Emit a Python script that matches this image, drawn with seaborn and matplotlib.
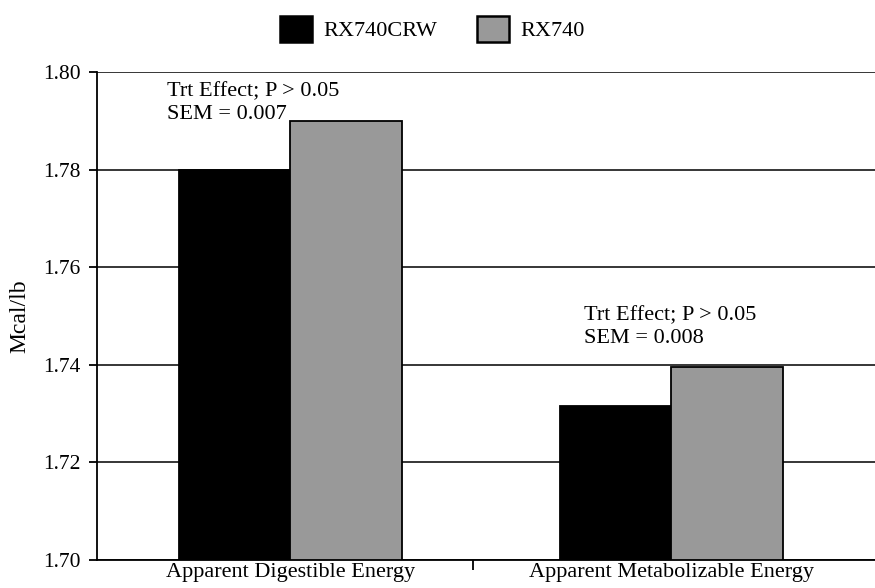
import matplotlib
matplotlib.use("Agg")
import matplotlib.pyplot as plt
import pandas as pd
import seaborn as sns

# values (Mcal/lb)
categories = ["Apparent Digestible Energy", "Apparent Metabolizable Energy"]
treatments = ["RX740CRW", "RX740"]
rx740crw = [1.780, 1.7315]
rx740 = [1.790, 1.7395]
sem_notes = ["Trt Effect; P > 0.05\nSEM = 0.007", "Trt Effect; P > 0.05\nSEM = 0.008"]

df = pd.DataFrame({
    "Category": categories * 2,
    "Treatment": [treatments[0]] * 2 + [treatments[1]] * 2,
    "Value": rx740crw + rx740,
})

sns.set_theme(style="white")
plt.rcParams['font.family'] = ['Liberation Serif', 'DejaVu Serif']
plt.rcParams['text.color'] = 'black'
plt.rcParams['xtick.color'] = 'black'
plt.rcParams['ytick.color'] = 'black'
plt.rcParams['axes.labelcolor'] = 'black'

fig = plt.figure(figsize=(8.75, 5.88), dpi=100)
ax = fig.add_axes([0.111, 0.0476, 0.889, 0.83])

palette = {"RX740CRW": "#000000", "RX740": "#999999"}
sns.barplot(data=df, x="Category", y="Value", hue="Treatment", hue_order=treatments,
            palette=palette, width=0.585, gap=0, edgecolor="black", linewidth=1.3,
            saturation=1, ax=ax, legend=False)

ax.set_ylim(1.70, 1.80)
ax.set_yticks([1.70, 1.72, 1.74, 1.76, 1.78, 1.80])
ax.set_yticklabels(["1.70", "1.72", "1.74", "1.76", "1.78", "1.80"], fontsize=15.5)
ax.set_xlim(-0.507, 1.535)

# gridlines behind the bars
ax.set_axisbelow(True)
ax.yaxis.grid(True, color="black", linewidth=1.1)
ax.xaxis.grid(False)

# category labels without tick marks, separator tick between groups
ax.set_xticks([0, 1])
ax.set_xticklabels(categories, fontsize=16)
ax.tick_params(axis="x", length=0, pad=2)
ax.set_xticks([0.48], minor=True)
ax.tick_params(axis="x", which="minor", direction="out", length=7, width=1.3, color="black", bottom=True)
ax.tick_params(axis="y", direction="out", length=6, width=1.3, color="black", left=True, pad=6)

for side in ["top", "right"]:
    ax.spines[side].set_visible(False)
for side in ["left", "bottom"]:
    ax.spines[side].set_color("black")
    ax.spines[side].set_linewidth(1.3)

ax.set_xlabel("")
ax.set_ylabel("Mcal/lb", fontsize=17, labelpad=9)

# treatment notes above each group
ax.text(-0.323, 1.7979, sem_notes[0], fontsize=16, va="top", ha="left", linespacing=1.3)
ax.text(1 - 0.228, 1.7521, sem_notes[1], fontsize=16, va="top", ha="left", linespacing=1.3)

handles = [plt.Rectangle((0, 0), 1, 1, facecolor=palette[t], edgecolor="black", linewidth=1.8)
           for t in treatments]
fig.legend(handles, treatments, loc="center", bbox_to_anchor=(0.494, 0.951), ncol=2,
           frameon=False, fontsize=16, handlelength=1.45, handleheight=1.45,
           handletextpad=0.5, columnspacing=1.8)

fig.savefig("out.png", dpi=100)
